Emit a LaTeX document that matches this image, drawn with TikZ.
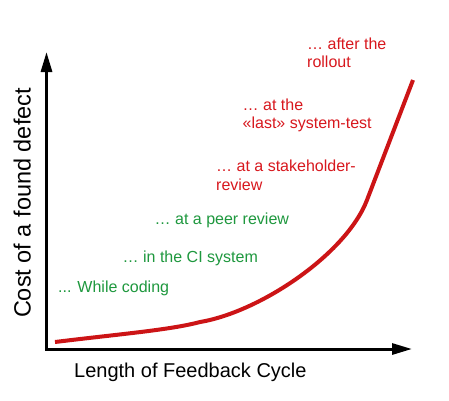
\documentclass[tikz,border=0pt]{standalone}
\usepackage{fontspec}
\setmainfont{Liberation Sans}
\usetikzlibrary{arrows.meta}
\definecolor{curvered}{RGB}{204,20,22}
\definecolor{textred}{RGB}{216,24,30}
\definecolor{textgreen}{RGB}{30,152,62}
\begin{document}
\begin{tikzpicture}[x=1pt,y=-1pt,
  axis/.style={line width=3pt,-{Triangle[length=20pt,width=11pt]}},
  redlbl/.style={text=textred,font=\fontsize{16}{18.3}\selectfont,anchor=base west,inner sep=0pt,align=left},
  greenlbl/.style={text=textgreen,font=\fontsize{16}{18.3}\selectfont,anchor=base west,inner sep=0pt},
  axislbl/.style={inner sep=0pt,anchor=base}]
\useasboundingbox (0,0) rectangle (449,400);
\fill[white] (0,0) rectangle (449,400);
% axes
\coordinate (origin) at (46.5,349);
\coordinate (ytip) at (46.5,52);
\coordinate (xtip) at (412,349);
\draw[axis] (origin) -- (ytip);
\draw[axis] ([xshift=-1.5pt]origin) -- (xtip);
% axis labels
\node[axislbl,rotate=90,font=\fontsize{23.5}{26}\selectfont] (ylabel) at (30.5,203) {Cost of a found defect};
\node[inner sep=0pt,anchor=base west,font=\fontsize{20}{22}\selectfont] (xlabel) at (74,377.7) {Length of Feedback Cycle};
% curve
\coordinate (c0) at (55,342);
\coordinate (c1) at (200,322);
\coordinate (c2) at (367,200);
\coordinate (c3) at (413,80);
\draw[curvered,line width=4pt] (c0) .. controls (120,334) and (170,330) .. (c1)
  .. controls (260,312) and (346.3,254) .. (c2) -- (c3);
% labels (base = baseline of last line)
\node[redlbl] (rollout) at (307,67.3) {… after the\\rollout};
\node[redlbl] (systest) at (242.5,128.3) {… at the\\«last» system-test};
\node[redlbl] (stake) at (216,190) {… at a stakeholder-\\review};
\node[greenlbl] (peer) at (154.5,224) {… at a peer review};
\node[greenlbl] (ci) at (122.5,262.3) {… in the CI system};
\node[greenlbl] (coding) at (58,292.7) {... While coding};
\end{tikzpicture}
\end{document}
